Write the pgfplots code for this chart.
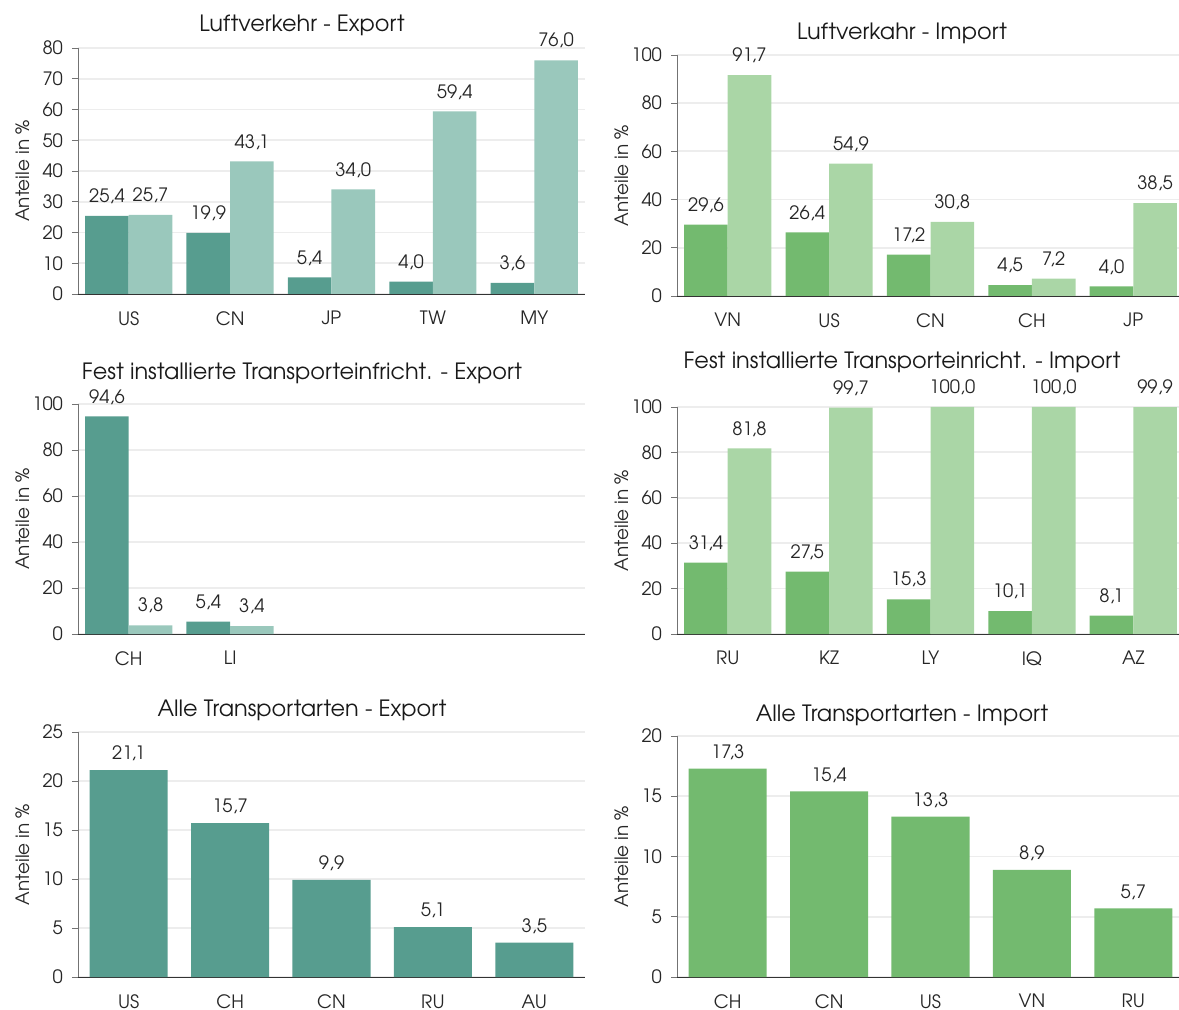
\documentclass[border=0pt]{standalone}
\usepackage{fontspec}
\setmainfont{TeX Gyre Adventor}
\usepackage{pgfplots}
\pgfplotsset{compat=1.18}
\definecolor{tdark}{HTML}{579D8F}
\definecolor{tlight}{HTML}{9AC8BC}
\definecolor{gdark}{HTML}{73BA6F}
\definecolor{glight}{HTML}{AAD6A6}
\newcommand{\tickfont}{\fontsize{9.2}{11}\selectfont}
\newcommand{\titlefont}{\fontsize{11.2}{13}\selectfont}
\pgfplotsset{
  panel/.style={
    scale only axis, width=253.5pt,
    xmin=-0.5, xmax=4.5, ymin=0,
    axis x line=bottom, axis y line=left, axis line style={-},
    x axis line style={black!80}, y axis line style={black!55},
    xtick style={draw=none}, ytick style={black!55, thin},
    tick align=outside, major tick length=3pt,
    ymajorgrids, grid style={black!7, line width=0.9pt},
    ylabel={Anteile in \%},
    ylabel style={at={(axis description cs:-0.11,0.5)}, anchor=center, font=\tickfont, text=black!85},
    /pgf/number format/assume math mode=true,
    tick label style={font=\tickfont, text=black!85},
    xticklabel style={inner sep=1pt, yshift=-4.5pt},
    yticklabel style={xshift=-1pt},
    xtick={0,1,2,3,4},
    ybar, bar width=0.43,
    nodes near coords={\pgfmathprintnumber[fixed,fixed zerofill,precision=1,use comma,assume math mode=true]{\pgfplotspointmeta}},
    every node near coord/.append style={font=\tickfont, text=black!85, yshift=2.5pt},
    clip=false,
  },
}
\begin{document}
\begin{tikzpicture}
% Panel 1
\begin{axis}[panel, at={(39pt,-147pt)}, anchor=south west, height=123pt,
  ymax=80, ytick={0,10,...,80}, xticklabels={US,CN,JP,TW,MY}]
\addplot[fill=tdark, draw=none, bar shift=-0.215] coordinates {(0,25.4) (1,19.9) (2,5.4) (3,4.0) (4,3.6)};
\addplot[fill=tlight, draw=none, bar shift=0.215] coordinates {(0,25.7) (1,43.1) (2,34.0) (3,59.4) (4,76.0)};
\end{axis}
% Panel 2
\begin{axis}[panel, at={(338.5pt,-148pt)}, anchor=south west, height=120.5pt,
  ymax=100, ytick={0,20,...,100}, xticklabels={VN,US,CN,CH,JP}]
\addplot[fill=gdark, draw=none, bar shift=-0.215] coordinates {(0,29.6) (1,26.4) (2,17.2) (3,4.5) (4,4.0)};
\addplot[fill=glight, draw=none, bar shift=0.215] coordinates {(0,91.7) (1,54.9) (2,30.8) (3,7.2) (4,38.5)};
\end{axis}
% Panel 3
\begin{axis}[panel, at={(39pt,-317pt)}, anchor=south west, height=115pt,
  ymax=100, ytick={0,20,...,100}, xtick={0,1}, xticklabels={CH,LI}]
\addplot[fill=tdark, draw=none, bar shift=-0.215] coordinates {(0,94.6) (1,5.4)};
\addplot[fill=tlight, draw=none, bar shift=0.215] coordinates {(0,3.8) (1,3.4)};
\end{axis}
% Panel 4
\begin{axis}[panel, at={(338.5pt,-317pt)}, anchor=south west, height=113.5pt,
  ymax=100, ytick={0,20,...,100}, xticklabels={RU,KZ,LY,IQ,AZ}]
\addplot[fill=gdark, draw=none, bar shift=-0.215] coordinates {(0,31.4) (1,27.5) (2,15.3) (3,10.1) (4,8.1)};
\addplot[fill=glight, draw=none, bar shift=0.215] coordinates {(0,81.8) (1,99.7) (2,100.0) (3,100.0) (4,99.9)};
\end{axis}
% Panel 5
\begin{axis}[panel, at={(39pt,-488.5pt)}, anchor=south west, height=122.5pt,
  ymax=25, ytick={0,5,...,25}, xticklabels={US,CH,CN,RU,AU}, bar width=0.77,
  every node near coord/.append style={yshift=-1.5pt}]
\addplot[fill=tdark, draw=none, bar shift=0] coordinates {(0,21.1) (1,15.7) (2,9.9) (3,5.1) (4,3.5)};
\end{axis}
% Panel 6
\begin{axis}[panel, at={(338.5pt,-488.5pt)}, anchor=south west, height=120.5pt,
  ymax=20, ytick={0,5,...,20}, xticklabels={CH,CN,US,VN,RU}, bar width=0.77,
  every node near coord/.append style={yshift=-1.5pt}]
\addplot[fill=gdark, draw=none, bar shift=0] coordinates {(0,17.3) (1,15.4) (2,13.3) (3,8.9) (4,5.7)};
\end{axis}
% Titles
\node[font=\titlefont, text=black!90] at (151pt,-12.5pt) {Luftverkehr - Export};
\node[font=\titlefont, text=black!90] at (451pt,-16.5pt) {Luftverkahr - Import};
\node[font=\titlefont, text=black!90] at (151pt,-186.5pt) {Fest installierte Transporteinfricht. - Export};
\node[font=\titlefont, text=black!90] at (451pt,-181pt) {Fest installierte Transporteinricht. - Import};
\node[font=\titlefont, text=black!90] at (151pt,-355pt) {Alle Transportarten - Export};
\node[font=\titlefont, text=black!90] at (451pt,-357.5pt) {Alle Transportarten - Import};
\pgfresetboundingbox
\useasboundingbox (0,0) rectangle (589.5pt,-505pt);
\end{tikzpicture}
\end{document}
